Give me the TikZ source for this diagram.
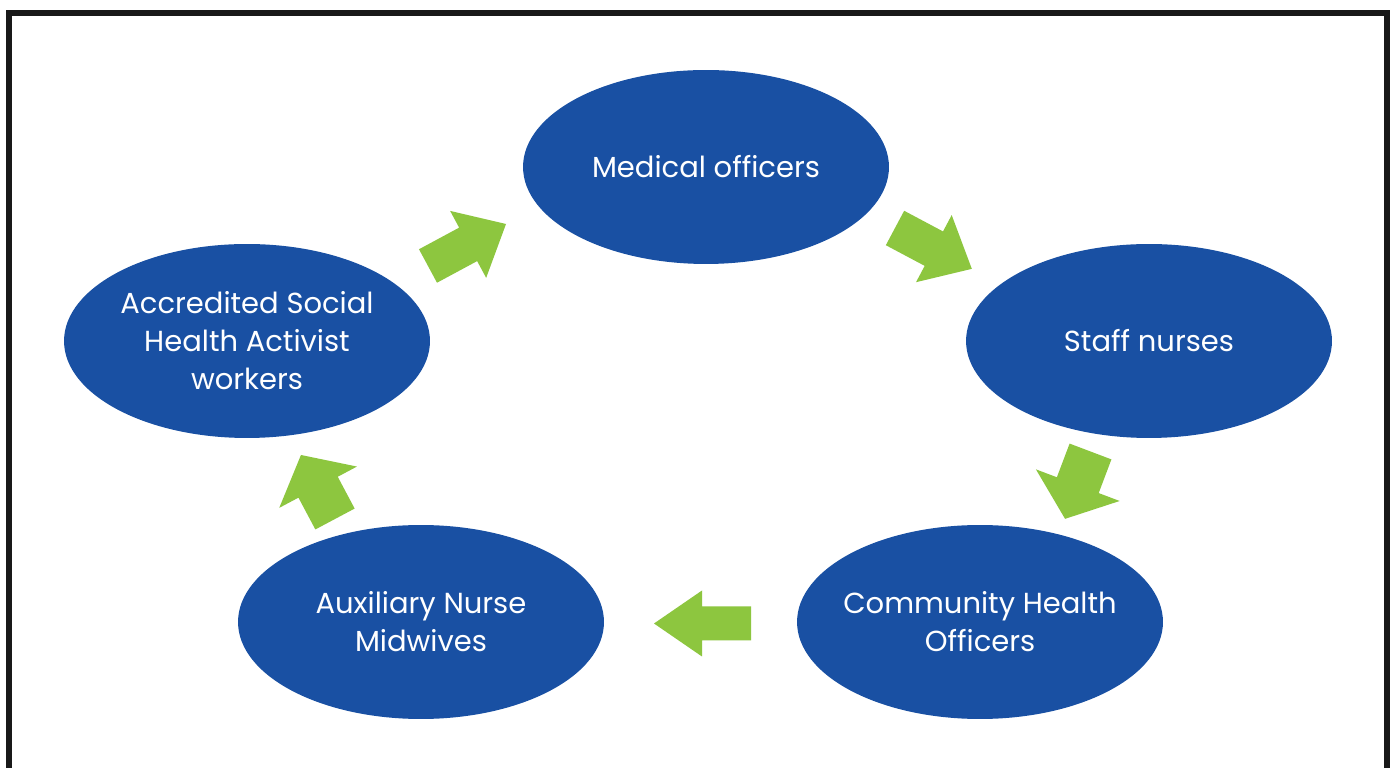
\documentclass[tikz,border=0pt]{standalone}
\usepackage{fontspec}
\setmainfont{Poppins}
\usetikzlibrary{shapes.geometric}

\definecolor{cadreblue}{RGB}{25,80,163}
\definecolor{arrowgreen}{RGB}{141,198,63}

\tikzset{
  cadre/.style={ellipse, fill=cadreblue, text=white, minimum width=7.32cm, minimum height=3.88cm,
    inner xsep=-0.5cm, inner ysep=0pt, outer sep=0pt, align=center, font=\fontsize{16.5}{21.6}\selectfont},
  pics/blockarrow/.style n args={4}{code={
    \fill[arrowgreen] (0,-#2/2) -- (#1-#4,-#2/2) -- (#1-#4,-#3/2) -- (#1,0)
      -- (#1-#4,#3/2) -- (#1-#4,#2/2) -- (0,#2/2) -- cycle;
  }}
}

\begin{document}
\begin{tikzpicture}[x=0.02cm,y=0.02cm]
            \clip (0,0) rectangle (1392,767);
            \fill[white] (0,0) rectangle (1392,767);
            \draw[line width=0.12cm, black!90] (9,-20) -- (9,754) -- (1387,754) -- (1387,-20);

            \node[cadre] (mo) at (706,600) {Medical officers};
            \node[cadre] (sn) at (1149,426) {Staff nurses};
            \node[cadre] (cho) at (980,145) {Community Health\\Officers};
            \node[cadre] (anm) at (421,145) {Auxiliary Nurse\\Midwives};
            \node[cadre] (asha) at (247,426) {Accredited Social\\Health Activist\\workers};

            \pic[rotate=28.3] at (428,501) {blockarrow={88.6}{38}{76}{43}};
            \pic[rotate=-28] at (895,539) {blockarrow={87}{39}{76}{43}};
            \pic[rotate=-110.7] at (1090.5,315.5) {blockarrow={72}{44.7}{89.5}{36}};
            \pic[rotate=180] at (751,143.5) {blockarrow={97}{34}{66}{48}};
            \pic[rotate=118] at (335,248) {blockarrow={72.5}{44.5}{88}{36.5}};

        \end{tikzpicture}
\end{document}
